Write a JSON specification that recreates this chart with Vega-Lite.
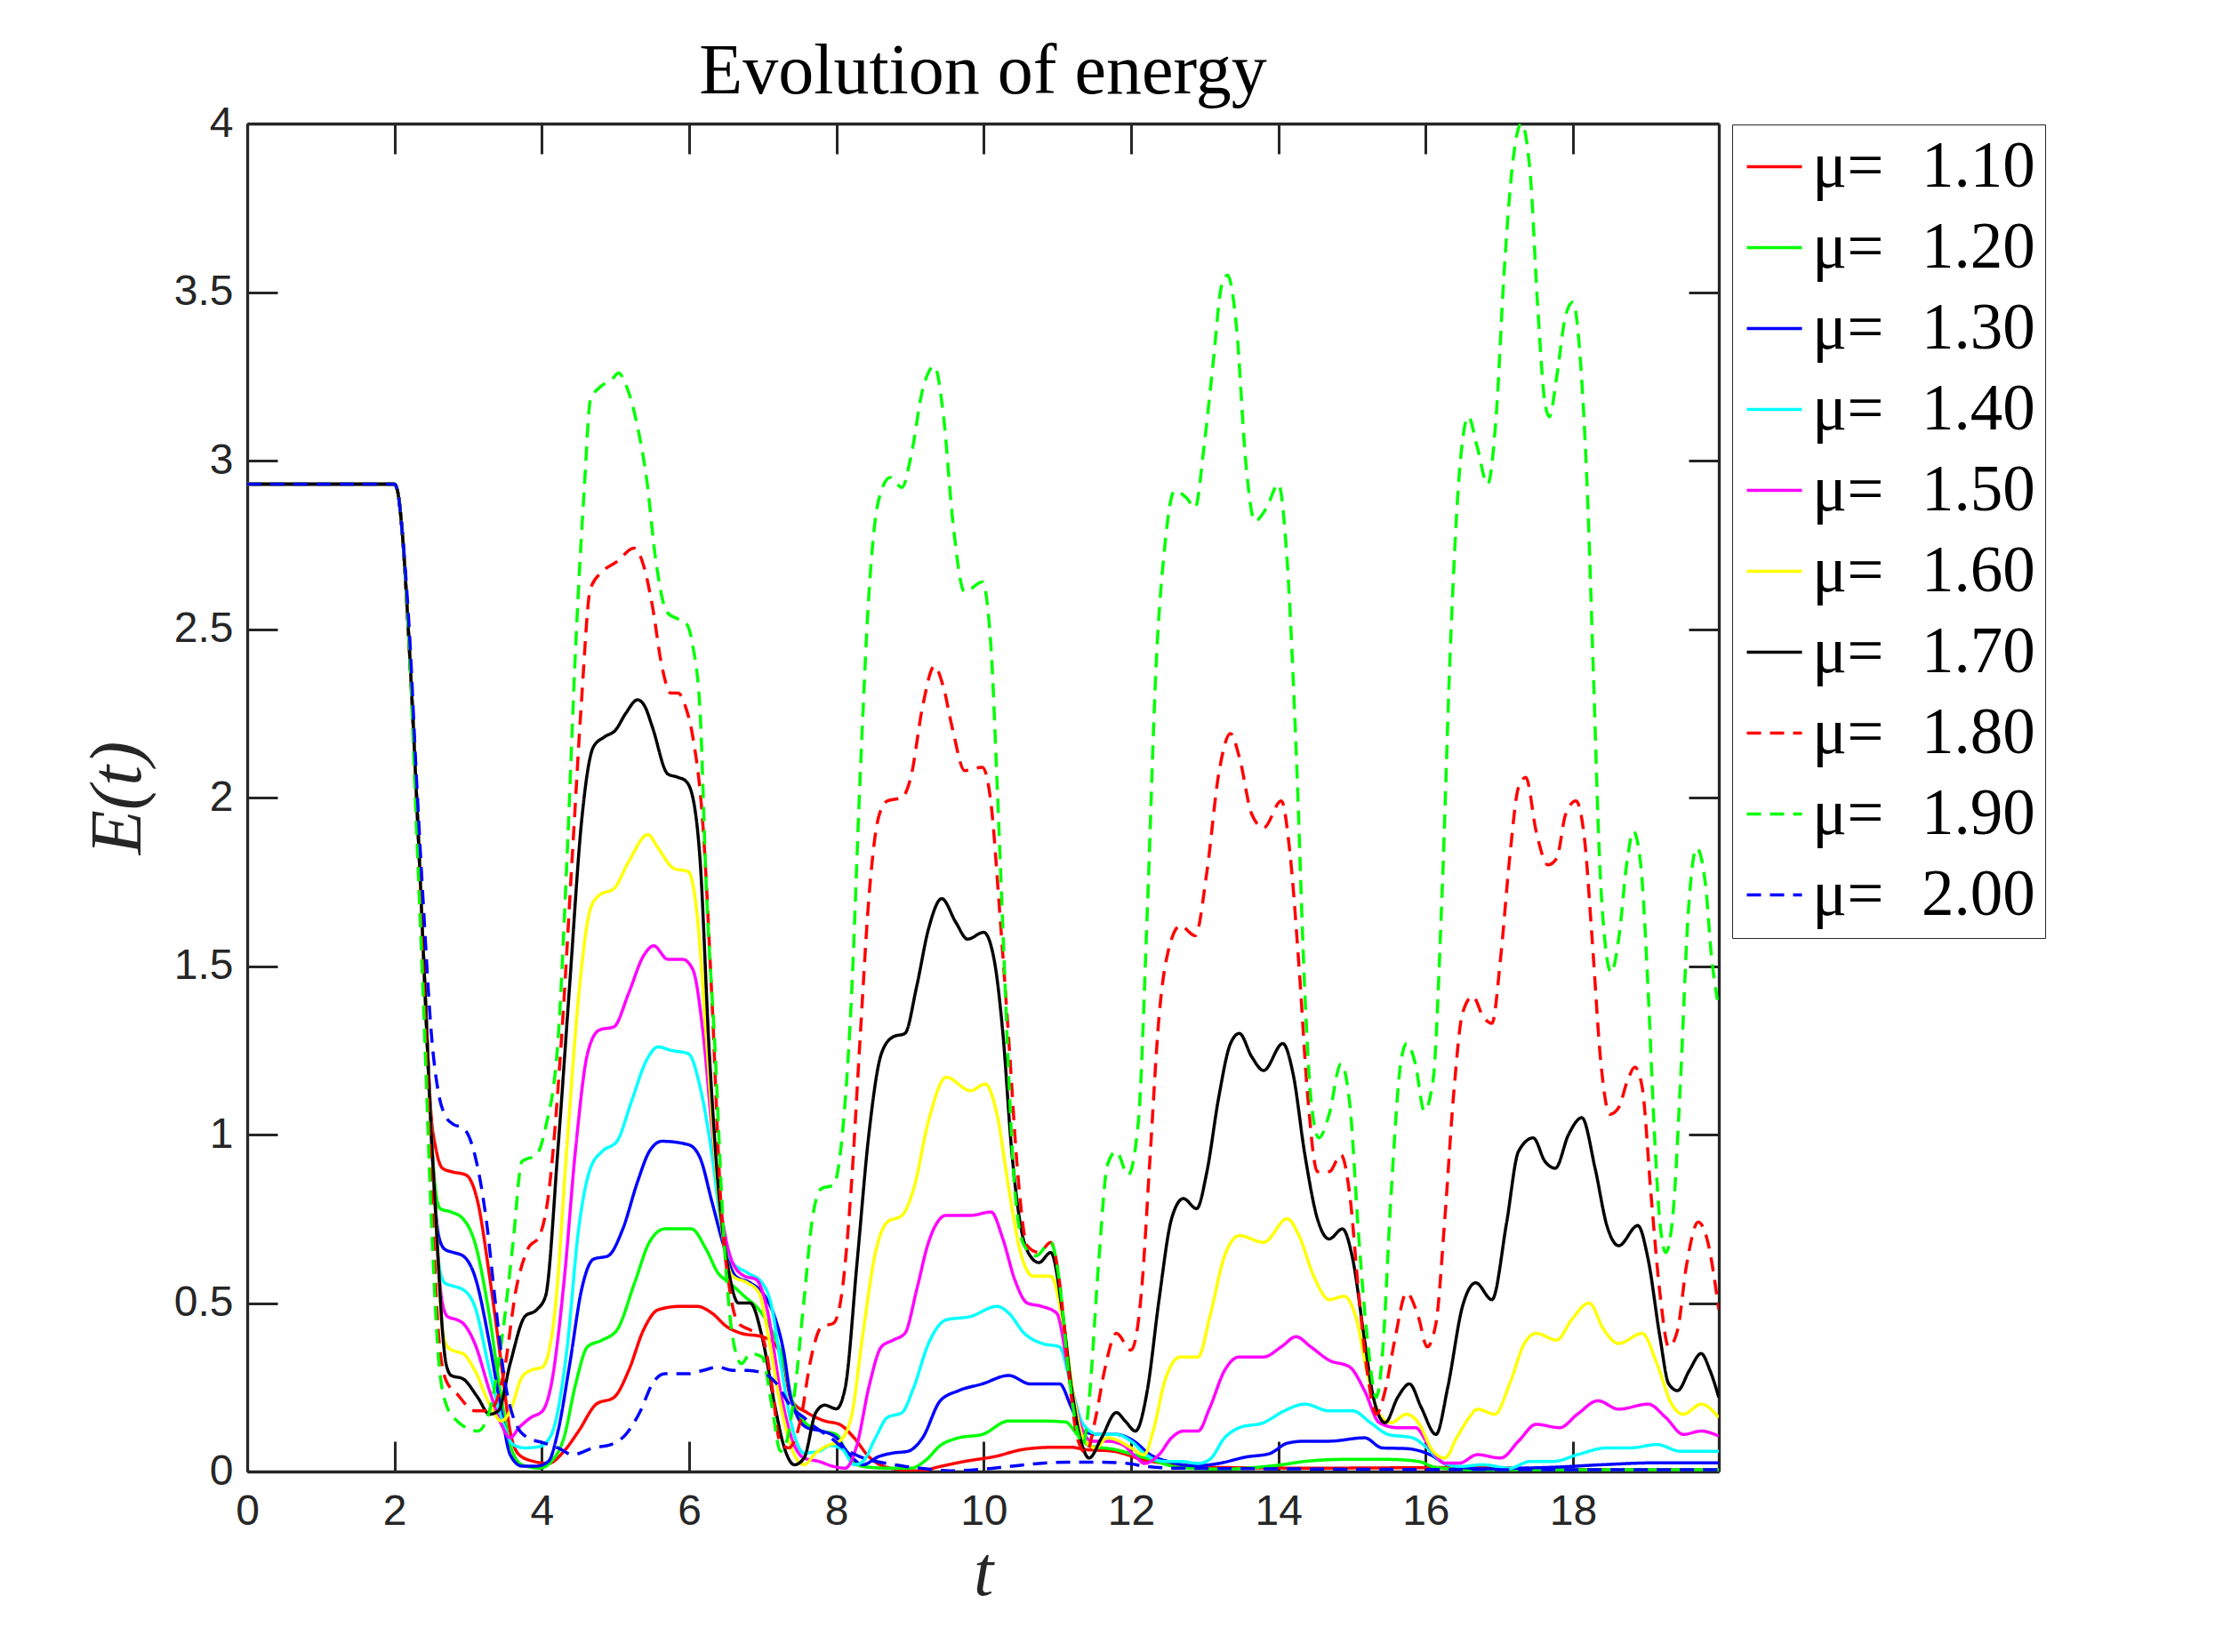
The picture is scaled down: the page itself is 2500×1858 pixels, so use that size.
{
  "$schema": "https://vega.github.io/schema/vega-lite/v6.json",
  "width": 1655,
  "height": 1516,
  "autosize": {"type": "none"},
  "padding": {"left": 278, "top": 139, "right": 567, "bottom": 203},
  "background": "white",
  "title": {
    "text": "Evolution of energy",
    "font": "Liberation Serif",
    "fontSize": 80,
    "fontWeight": "normal",
    "color": "black",
    "anchor": "middle",
    "frame": "group",
    "baseline": "bottom",
    "offset": 18,
    "dy": 105
  },
  "data": {
    "values": [
      {"mu":"1.10","t":0,"E":2.93},{"mu":"1.10","t":2,"E":2.93},{"mu":"1.10","t":2.05,"E":2.9},{"mu":"1.10","t":2.1,"E":2.8},{"mu":"1.10","t":2.2,"E":2.45},{"mu":"1.10","t":2.3,"E":2.0},{"mu":"1.10","t":2.4,"E":1.5},{"mu":"1.10","t":2.5,"E":1.05},{"mu":"1.10","t":2.56,"E":0.96},{"mu":"1.10","t":2.65,"E":0.9},{"mu":"1.10","t":2.77,"E":0.89},{"mu":"1.10","t":2.97,"E":0.88},{"mu":"1.10","t":3.13,"E":0.8},{"mu":"1.10","t":3.29,"E":0.58},{"mu":"1.10","t":3.45,"E":0.32},{"mu":"1.10","t":3.57,"E":0.12},{"mu":"1.10","t":3.69,"E":0.05},{"mu":"1.10","t":3.89,"E":0.03},{"mu":"1.10","t":4.09,"E":0.024},{"mu":"1.10","t":4.3,"E":0.06},{"mu":"1.10","t":4.5,"E":0.12},{"mu":"1.10","t":4.74,"E":0.2},{"mu":"1.10","t":4.98,"E":0.22},{"mu":"1.10","t":5.18,"E":0.3},{"mu":"1.10","t":5.38,"E":0.42},{"mu":"1.10","t":5.58,"E":0.48},{"mu":"1.10","t":5.87,"E":0.49},{"mu":"1.10","t":6.11,"E":0.49},{"mu":"1.10","t":6.31,"E":0.47},{"mu":"1.10","t":6.51,"E":0.43},{"mu":"1.10","t":6.71,"E":0.41},{"mu":"1.10","t":6.99,"E":0.4},{"mu":"1.10","t":7.16,"E":0.38},{"mu":"1.10","t":7.28,"E":0.32},{"mu":"1.10","t":7.39,"E":0.21},{"mu":"1.10","t":7.6,"E":0.175},{"mu":"1.10","t":7.84,"E":0.15},{"mu":"1.10","t":8.04,"E":0.14},{"mu":"1.10","t":8.24,"E":0.1},{"mu":"1.10","t":8.44,"E":0.044},{"mu":"1.10","t":8.73,"E":0.01},{"mu":"1.10","t":9.13,"E":0.002},{"mu":"1.10","t":9.41,"E":0.015},{"mu":"1.10","t":9.74,"E":0.03},{"mu":"1.10","t":10.14,"E":0.044},{"mu":"1.10","t":10.55,"E":0.066},{"mu":"1.10","t":10.95,"E":0.072},{"mu":"1.10","t":11.19,"E":0.072},{"mu":"1.10","t":11.35,"E":0.066},{"mu":"1.10","t":11.76,"E":0.06},{"mu":"1.10","t":12.2,"E":0.033},{"mu":"1.10","t":12.67,"E":0.02},{"mu":"1.10","t":13.2,"E":0.012},{"mu":"1.10","t":14.5,"E":0.01},{"mu":"1.10","t":16.7,"E":0.012},{"mu":"1.10","t":18,"E":0.006},{"mu":"1.10","t":19.98,"E":0.005},

      {"mu":"1.20","t":0,"E":2.93},{"mu":"1.20","t":2,"E":2.93},{"mu":"1.20","t":2.05,"E":2.9},{"mu":"1.20","t":2.1,"E":2.8},{"mu":"1.20","t":2.2,"E":2.45},{"mu":"1.20","t":2.3,"E":2.0},{"mu":"1.20","t":2.4,"E":1.5},{"mu":"1.20","t":2.5,"E":1.0},{"mu":"1.20","t":2.55,"E":0.85},{"mu":"1.20","t":2.62,"E":0.78},{"mu":"1.20","t":2.77,"E":0.77},{"mu":"1.20","t":2.93,"E":0.75},{"mu":"1.20","t":3.09,"E":0.68},{"mu":"1.20","t":3.29,"E":0.46},{"mu":"1.20","t":3.45,"E":0.22},{"mu":"1.20","t":3.57,"E":0.08},{"mu":"1.20","t":3.73,"E":0.02},{"mu":"1.20","t":3.97,"E":0.01},{"mu":"1.20","t":4.13,"E":0.03},{"mu":"1.20","t":4.3,"E":0.1},{"mu":"1.20","t":4.46,"E":0.26},{"mu":"1.20","t":4.62,"E":0.37},{"mu":"1.20","t":4.82,"E":0.39},{"mu":"1.20","t":5.02,"E":0.42},{"mu":"1.20","t":5.26,"E":0.56},{"mu":"1.20","t":5.46,"E":0.68},{"mu":"1.20","t":5.67,"E":0.72},{"mu":"1.20","t":6.03,"E":0.72},{"mu":"1.20","t":6.23,"E":0.66},{"mu":"1.20","t":6.39,"E":0.59},{"mu":"1.20","t":6.55,"E":0.56},{"mu":"1.20","t":6.75,"E":0.52},{"mu":"1.20","t":6.95,"E":0.48},{"mu":"1.20","t":7.07,"E":0.44},{"mu":"1.20","t":7.16,"E":0.4},{"mu":"1.20","t":7.28,"E":0.33},{"mu":"1.20","t":7.39,"E":0.22},{"mu":"1.20","t":7.6,"E":0.14},{"mu":"1.20","t":7.8,"E":0.12},{"mu":"1.20","t":8.0,"E":0.11},{"mu":"1.20","t":8.16,"E":0.044},{"mu":"1.20","t":8.36,"E":0.015},{"mu":"1.20","t":8.69,"E":0.01},{"mu":"1.20","t":9.01,"E":0.01},{"mu":"1.20","t":9.21,"E":0.033},{"mu":"1.20","t":9.41,"E":0.077},{"mu":"1.20","t":9.66,"E":0.1},{"mu":"1.20","t":9.98,"E":0.11},{"mu":"1.20","t":10.34,"E":0.15},{"mu":"1.20","t":10.75,"E":0.15},{"mu":"1.20","t":11.11,"E":0.147},{"mu":"1.20","t":11.27,"E":0.11},{"mu":"1.20","t":11.43,"E":0.077},{"mu":"1.20","t":11.76,"E":0.066},{"mu":"1.20","t":12.2,"E":0.04},{"mu":"1.20","t":12.67,"E":0.012},{"mu":"1.20","t":13.27,"E":0.007},{"mu":"1.20","t":13.68,"E":0.012},{"mu":"1.20","t":14.04,"E":0.02},{"mu":"1.20","t":14.36,"E":0.03},{"mu":"1.20","t":14.89,"E":0.036},{"mu":"1.20","t":15.49,"E":0.036},{"mu":"1.20","t":15.9,"E":0.03},{"mu":"1.20","t":16.14,"E":0.012},{"mu":"1.20","t":16.71,"E":0.005},{"mu":"1.20","t":19.98,"E":0.005},

      {"mu":"1.30","t":0,"E":2.93},{"mu":"1.30","t":2,"E":2.93},{"mu":"1.30","t":2.05,"E":2.9},{"mu":"1.30","t":2.1,"E":2.8},{"mu":"1.30","t":2.2,"E":2.45},{"mu":"1.30","t":2.3,"E":2.0},{"mu":"1.30","t":2.4,"E":1.5},{"mu":"1.30","t":2.5,"E":1.0},{"mu":"1.30","t":2.55,"E":0.8},{"mu":"1.30","t":2.6,"E":0.7},{"mu":"1.30","t":2.68,"E":0.66},{"mu":"1.30","t":2.8,"E":0.65},{"mu":"1.30","t":2.93,"E":0.64},{"mu":"1.30","t":3.09,"E":0.58},{"mu":"1.30","t":3.29,"E":0.38},{"mu":"1.30","t":3.45,"E":0.18},{"mu":"1.30","t":3.57,"E":0.05},{"mu":"1.30","t":3.73,"E":0.016},{"mu":"1.30","t":3.93,"E":0.016},{"mu":"1.30","t":4.09,"E":0.03},{"mu":"1.30","t":4.22,"E":0.12},{"mu":"1.30","t":4.38,"E":0.32},{"mu":"1.30","t":4.54,"E":0.54},{"mu":"1.30","t":4.7,"E":0.63},{"mu":"1.30","t":4.9,"E":0.64},{"mu":"1.30","t":5.1,"E":0.72},{"mu":"1.30","t":5.3,"E":0.86},{"mu":"1.30","t":5.46,"E":0.95},{"mu":"1.30","t":5.63,"E":0.98},{"mu":"1.30","t":5.99,"E":0.97},{"mu":"1.30","t":6.15,"E":0.93},{"mu":"1.30","t":6.31,"E":0.8},{"mu":"1.30","t":6.47,"E":0.67},{"mu":"1.30","t":6.63,"E":0.58},{"mu":"1.30","t":6.83,"E":0.56},{"mu":"1.30","t":7.03,"E":0.52},{"mu":"1.30","t":7.16,"E":0.46},{"mu":"1.30","t":7.28,"E":0.36},{"mu":"1.30","t":7.39,"E":0.21},{"mu":"1.30","t":7.6,"E":0.13},{"mu":"1.30","t":7.8,"E":0.12},{"mu":"1.30","t":8.0,"E":0.1},{"mu":"1.30","t":8.16,"E":0.055},{"mu":"1.30","t":8.36,"E":0.02},{"mu":"1.30","t":8.57,"E":0.044},{"mu":"1.30","t":8.77,"E":0.055},{"mu":"1.30","t":8.97,"E":0.06},{"mu":"1.30","t":9.17,"E":0.1},{"mu":"1.30","t":9.41,"E":0.21},{"mu":"1.30","t":9.66,"E":0.24},{"mu":"1.30","t":9.98,"E":0.26},{"mu":"1.30","t":10.34,"E":0.285},{"mu":"1.30","t":10.63,"E":0.26},{"mu":"1.30","t":11.03,"E":0.26},{"mu":"1.30","t":11.19,"E":0.19},{"mu":"1.30","t":11.35,"E":0.12},{"mu":"1.30","t":11.56,"E":0.11},{"mu":"1.30","t":11.8,"E":0.11},{"mu":"1.30","t":12.04,"E":0.09},{"mu":"1.30","t":12.26,"E":0.05},{"mu":"1.30","t":12.5,"E":0.03},{"mu":"1.30","t":12.87,"E":0.017},{"mu":"1.30","t":13.19,"E":0.024},{"mu":"1.30","t":13.56,"E":0.043},{"mu":"1.30","t":13.88,"E":0.053},{"mu":"1.30","t":14.12,"E":0.084},{"mu":"1.30","t":14.36,"E":0.09},{"mu":"1.30","t":14.69,"E":0.09},{"mu":"1.30","t":15.17,"E":0.1},{"mu":"1.30","t":15.41,"E":0.07},{"mu":"1.30","t":15.74,"E":0.068},{"mu":"1.30","t":16.06,"E":0.05},{"mu":"1.30","t":16.3,"E":0.02},{"mu":"1.30","t":16.78,"E":0.008},{"mu":"1.30","t":17.3,"E":0.01},{"mu":"1.30","t":17.78,"E":0.013},{"mu":"1.30","t":18.38,"E":0.02},{"mu":"1.30","t":19.18,"E":0.026},{"mu":"1.30","t":19.98,"E":0.026},

      {"mu":"1.40","t":0,"E":2.93},{"mu":"1.40","t":2,"E":2.93},{"mu":"1.40","t":2.05,"E":2.9},{"mu":"1.40","t":2.1,"E":2.8},{"mu":"1.40","t":2.2,"E":2.45},{"mu":"1.40","t":2.3,"E":2.0},{"mu":"1.40","t":2.4,"E":1.5},{"mu":"1.40","t":2.5,"E":1.0},{"mu":"1.40","t":2.55,"E":0.8},{"mu":"1.40","t":2.6,"E":0.62},{"mu":"1.40","t":2.68,"E":0.56},{"mu":"1.40","t":2.8,"E":0.55},{"mu":"1.40","t":2.93,"E":0.54},{"mu":"1.40","t":3.09,"E":0.49},{"mu":"1.40","t":3.29,"E":0.3},{"mu":"1.40","t":3.45,"E":0.16},{"mu":"1.40","t":3.61,"E":0.08},{"mu":"1.40","t":3.77,"E":0.07},{"mu":"1.40","t":3.97,"E":0.074},{"mu":"1.40","t":4.13,"E":0.11},{"mu":"1.40","t":4.34,"E":0.36},{"mu":"1.40","t":4.5,"E":0.72},{"mu":"1.40","t":4.66,"E":0.9},{"mu":"1.40","t":4.82,"E":0.95},{"mu":"1.40","t":5.02,"E":0.98},{"mu":"1.40","t":5.22,"E":1.1},{"mu":"1.40","t":5.42,"E":1.22},{"mu":"1.40","t":5.58,"E":1.26},{"mu":"1.40","t":5.75,"E":1.25},{"mu":"1.40","t":5.99,"E":1.24},{"mu":"1.40","t":6.15,"E":1.14},{"mu":"1.40","t":6.31,"E":0.94},{"mu":"1.40","t":6.43,"E":0.74},{"mu":"1.40","t":6.59,"E":0.62},{"mu":"1.40","t":6.79,"E":0.59},{"mu":"1.40","t":6.99,"E":0.56},{"mu":"1.40","t":7.12,"E":0.49},{"mu":"1.40","t":7.23,"E":0.34},{"mu":"1.40","t":7.39,"E":0.14},{"mu":"1.40","t":7.56,"E":0.055},{"mu":"1.40","t":7.76,"E":0.06},{"mu":"1.40","t":7.92,"E":0.077},{"mu":"1.40","t":8.08,"E":0.066},{"mu":"1.40","t":8.24,"E":0.02},{"mu":"1.40","t":8.36,"E":0.03},{"mu":"1.40","t":8.53,"E":0.1},{"mu":"1.40","t":8.69,"E":0.16},{"mu":"1.40","t":8.89,"E":0.175},{"mu":"1.40","t":9.05,"E":0.25},{"mu":"1.40","t":9.25,"E":0.38},{"mu":"1.40","t":9.49,"E":0.45},{"mu":"1.40","t":9.82,"E":0.46},{"mu":"1.40","t":10.18,"E":0.49},{"mu":"1.40","t":10.34,"E":0.47},{"mu":"1.40","t":10.55,"E":0.41},{"mu":"1.40","t":10.79,"E":0.38},{"mu":"1.40","t":11.03,"E":0.37},{"mu":"1.40","t":11.19,"E":0.25},{"mu":"1.40","t":11.35,"E":0.14},{"mu":"1.40","t":11.56,"E":0.11},{"mu":"1.40","t":11.8,"E":0.11},{"mu":"1.40","t":12.0,"E":0.09},{"mu":"1.40","t":12.2,"E":0.05},{"mu":"1.40","t":12.46,"E":0.03},{"mu":"1.40","t":12.67,"E":0.03},{"mu":"1.40","t":12.91,"E":0.024},{"mu":"1.40","t":13.07,"E":0.036},{"mu":"1.40","t":13.27,"E":0.1},{"mu":"1.40","t":13.47,"E":0.13},{"mu":"1.40","t":13.8,"E":0.145},{"mu":"1.40","t":14.08,"E":0.18},{"mu":"1.40","t":14.36,"E":0.2},{"mu":"1.40","t":14.69,"E":0.18},{"mu":"1.40","t":15.01,"E":0.18},{"mu":"1.40","t":15.25,"E":0.145},{"mu":"1.40","t":15.49,"E":0.11},{"mu":"1.40","t":15.82,"E":0.1},{"mu":"1.40","t":16.02,"E":0.07},{"mu":"1.40","t":16.22,"E":0.028},{"mu":"1.40","t":16.46,"E":0.015},{"mu":"1.40","t":16.78,"E":0.02},{"mu":"1.40","t":17.14,"E":0.01},{"mu":"1.40","t":17.42,"E":0.03},{"mu":"1.40","t":17.74,"E":0.03},{"mu":"1.40","t":18.06,"E":0.05},{"mu":"1.40","t":18.46,"E":0.07},{"mu":"1.40","t":18.78,"E":0.07},{"mu":"1.40","t":19.14,"E":0.08},{"mu":"1.40","t":19.46,"E":0.06},{"mu":"1.40","t":19.98,"E":0.06},

      {"mu":"1.50","t":0,"E":2.93},{"mu":"1.50","t":2,"E":2.93},{"mu":"1.50","t":2.05,"E":2.9},{"mu":"1.50","t":2.1,"E":2.8},{"mu":"1.50","t":2.2,"E":2.45},{"mu":"1.50","t":2.3,"E":2.0},{"mu":"1.50","t":2.4,"E":1.5},{"mu":"1.50","t":2.5,"E":1.0},{"mu":"1.50","t":2.55,"E":0.8},{"mu":"1.50","t":2.6,"E":0.6},{"mu":"1.50","t":2.65,"E":0.5},{"mu":"1.50","t":2.72,"E":0.46},{"mu":"1.50","t":2.85,"E":0.45},{"mu":"1.50","t":2.93,"E":0.44},{"mu":"1.50","t":3.09,"E":0.38},{"mu":"1.50","t":3.29,"E":0.24},{"mu":"1.50","t":3.45,"E":0.14},{"mu":"1.50","t":3.57,"E":0.1},{"mu":"1.50","t":3.69,"E":0.13},{"mu":"1.50","t":3.85,"E":0.16},{"mu":"1.50","t":4.01,"E":0.18},{"mu":"1.50","t":4.13,"E":0.26},{"mu":"1.50","t":4.3,"E":0.56},{"mu":"1.50","t":4.46,"E":0.96},{"mu":"1.50","t":4.62,"E":1.24},{"mu":"1.50","t":4.78,"E":1.31},{"mu":"1.50","t":4.98,"E":1.32},{"mu":"1.50","t":5.18,"E":1.42},{"mu":"1.50","t":5.38,"E":1.53},{"mu":"1.50","t":5.52,"E":1.56},{"mu":"1.50","t":5.71,"E":1.52},{"mu":"1.50","t":5.91,"E":1.52},{"mu":"1.50","t":6.05,"E":1.49},{"mu":"1.50","t":6.19,"E":1.3},{"mu":"1.50","t":6.31,"E":1.02},{"mu":"1.50","t":6.43,"E":0.78},{"mu":"1.50","t":6.59,"E":0.62},{"mu":"1.50","t":6.75,"E":0.58},{"mu":"1.50","t":6.91,"E":0.57},{"mu":"1.50","t":7.07,"E":0.47},{"mu":"1.50","t":7.23,"E":0.25},{"mu":"1.50","t":7.39,"E":0.1},{"mu":"1.50","t":7.56,"E":0.04},{"mu":"1.50","t":7.76,"E":0.03},{"mu":"1.50","t":7.96,"E":0.015},{"mu":"1.50","t":8.12,"E":0.01},{"mu":"1.50","t":8.28,"E":0.08},{"mu":"1.50","t":8.44,"E":0.25},{"mu":"1.50","t":8.61,"E":0.37},{"mu":"1.50","t":8.77,"E":0.39},{"mu":"1.50","t":8.93,"E":0.41},{"mu":"1.50","t":9.09,"E":0.54},{"mu":"1.50","t":9.25,"E":0.68},{"mu":"1.50","t":9.49,"E":0.76},{"mu":"1.50","t":9.82,"E":0.76},{"mu":"1.50","t":10.1,"E":0.77},{"mu":"1.50","t":10.26,"E":0.69},{"mu":"1.50","t":10.42,"E":0.57},{"mu":"1.50","t":10.59,"E":0.5},{"mu":"1.50","t":10.79,"E":0.49},{"mu":"1.50","t":10.99,"E":0.47},{"mu":"1.50","t":11.15,"E":0.3},{"mu":"1.50","t":11.31,"E":0.14},{"mu":"1.50","t":11.47,"E":0.09},{"mu":"1.50","t":11.68,"E":0.09},{"mu":"1.50","t":11.88,"E":0.08},{"mu":"1.50","t":12.08,"E":0.04},{"mu":"1.50","t":12.18,"E":0.024},{"mu":"1.50","t":12.38,"E":0.05},{"mu":"1.50","t":12.55,"E":0.1},{"mu":"1.50","t":12.71,"E":0.12},{"mu":"1.50","t":12.91,"E":0.12},{"mu":"1.50","t":13.07,"E":0.19},{"mu":"1.50","t":13.27,"E":0.3},{"mu":"1.50","t":13.47,"E":0.34},{"mu":"1.50","t":13.8,"E":0.34},{"mu":"1.50","t":14.04,"E":0.37},{"mu":"1.50","t":14.24,"E":0.4},{"mu":"1.50","t":14.44,"E":0.37},{"mu":"1.50","t":14.69,"E":0.33},{"mu":"1.50","t":14.97,"E":0.31},{"mu":"1.50","t":15.17,"E":0.24},{"mu":"1.50","t":15.37,"E":0.145},{"mu":"1.50","t":15.62,"E":0.13},{"mu":"1.50","t":15.86,"E":0.13},{"mu":"1.50","t":16.06,"E":0.07},{"mu":"1.50","t":16.26,"E":0.025},{"mu":"1.50","t":16.46,"E":0.025},{"mu":"1.50","t":16.7,"E":0.05},{"mu":"1.50","t":17.02,"E":0.04},{"mu":"1.50","t":17.26,"E":0.09},{"mu":"1.50","t":17.5,"E":0.14},{"mu":"1.50","t":17.82,"E":0.13},{"mu":"1.50","t":18.06,"E":0.17},{"mu":"1.50","t":18.34,"E":0.21},{"mu":"1.50","t":18.62,"E":0.185},{"mu":"1.50","t":19.02,"E":0.2},{"mu":"1.50","t":19.26,"E":0.16},{"mu":"1.50","t":19.5,"E":0.11},{"mu":"1.50","t":19.74,"E":0.12},{"mu":"1.50","t":19.98,"E":0.105},

      {"mu":"1.60","t":0,"E":2.93},{"mu":"1.60","t":2,"E":2.93},{"mu":"1.60","t":2.05,"E":2.9},{"mu":"1.60","t":2.1,"E":2.8},{"mu":"1.60","t":2.2,"E":2.45},{"mu":"1.60","t":2.3,"E":2.0},{"mu":"1.60","t":2.4,"E":1.5},{"mu":"1.60","t":2.5,"E":1.0},{"mu":"1.60","t":2.55,"E":0.8},{"mu":"1.60","t":2.6,"E":0.6},{"mu":"1.60","t":2.65,"E":0.42},{"mu":"1.60","t":2.72,"E":0.37},{"mu":"1.60","t":2.85,"E":0.355},{"mu":"1.60","t":2.93,"E":0.35},{"mu":"1.60","t":3.09,"E":0.3},{"mu":"1.60","t":3.29,"E":0.2},{"mu":"1.60","t":3.45,"E":0.15},{"mu":"1.60","t":3.57,"E":0.18},{"mu":"1.60","t":3.73,"E":0.28},{"mu":"1.60","t":3.85,"E":0.3},{"mu":"1.60","t":4.01,"E":0.31},{"mu":"1.60","t":4.18,"E":0.48},{"mu":"1.60","t":4.34,"E":0.96},{"mu":"1.60","t":4.5,"E":1.41},{"mu":"1.60","t":4.66,"E":1.67},{"mu":"1.60","t":4.78,"E":1.71},{"mu":"1.60","t":4.98,"E":1.73},{"mu":"1.60","t":5.18,"E":1.81},{"mu":"1.60","t":5.44,"E":1.89},{"mu":"1.60","t":5.58,"E":1.85},{"mu":"1.60","t":5.79,"E":1.79},{"mu":"1.60","t":5.99,"E":1.78},{"mu":"1.60","t":6.11,"E":1.65},{"mu":"1.60","t":6.23,"E":1.3},{"mu":"1.60","t":6.35,"E":0.94},{"mu":"1.60","t":6.47,"E":0.68},{"mu":"1.60","t":6.59,"E":0.58},{"mu":"1.60","t":6.79,"E":0.56},{"mu":"1.60","t":6.95,"E":0.53},{"mu":"1.60","t":7.07,"E":0.41},{"mu":"1.60","t":7.23,"E":0.21},{"mu":"1.60","t":7.39,"E":0.07},{"mu":"1.60","t":7.56,"E":0.02},{"mu":"1.60","t":7.72,"E":0.055},{"mu":"1.60","t":7.88,"E":0.077},{"mu":"1.60","t":8.04,"E":0.09},{"mu":"1.60","t":8.2,"E":0.16},{"mu":"1.60","t":8.36,"E":0.41},{"mu":"1.60","t":8.53,"E":0.65},{"mu":"1.60","t":8.69,"E":0.74},{"mu":"1.60","t":8.89,"E":0.76},{"mu":"1.60","t":9.05,"E":0.84},{"mu":"1.60","t":9.25,"E":1.04},{"mu":"1.60","t":9.49,"E":1.17},{"mu":"1.60","t":9.82,"E":1.13},{"mu":"1.60","t":10.02,"E":1.15},{"mu":"1.60","t":10.18,"E":1.06},{"mu":"1.60","t":10.34,"E":0.84},{"mu":"1.60","t":10.5,"E":0.65},{"mu":"1.60","t":10.67,"E":0.58},{"mu":"1.60","t":10.91,"E":0.58},{"mu":"1.60","t":11.07,"E":0.45},{"mu":"1.60","t":11.23,"E":0.21},{"mu":"1.60","t":11.35,"E":0.1},{"mu":"1.60","t":11.52,"E":0.07},{"mu":"1.60","t":11.68,"E":0.1},{"mu":"1.60","t":11.84,"E":0.09},{"mu":"1.60","t":12.0,"E":0.07},{"mu":"1.60","t":12.18,"E":0.05},{"mu":"1.60","t":12.3,"E":0.12},{"mu":"1.60","t":12.46,"E":0.27},{"mu":"1.60","t":12.67,"E":0.34},{"mu":"1.60","t":12.91,"E":0.34},{"mu":"1.60","t":13.07,"E":0.46},{"mu":"1.60","t":13.27,"E":0.64},{"mu":"1.60","t":13.47,"E":0.7},{"mu":"1.60","t":13.8,"E":0.68},{"mu":"1.60","t":14.12,"E":0.75},{"mu":"1.60","t":14.28,"E":0.7},{"mu":"1.60","t":14.48,"E":0.58},{"mu":"1.60","t":14.69,"E":0.51},{"mu":"1.60","t":14.89,"E":0.52},{"mu":"1.60","t":15.05,"E":0.46},{"mu":"1.60","t":15.21,"E":0.29},{"mu":"1.60","t":15.37,"E":0.17},{"mu":"1.60","t":15.53,"E":0.145},{"mu":"1.60","t":15.74,"E":0.17},{"mu":"1.60","t":15.9,"E":0.145},{"mu":"1.60","t":16.1,"E":0.06},{"mu":"1.60","t":16.26,"E":0.04},{"mu":"1.60","t":16.42,"E":0.1},{"mu":"1.60","t":16.59,"E":0.16},{"mu":"1.60","t":16.7,"E":0.185},{"mu":"1.60","t":16.94,"E":0.17},{"mu":"1.60","t":17.14,"E":0.26},{"mu":"1.60","t":17.34,"E":0.38},{"mu":"1.60","t":17.5,"E":0.41},{"mu":"1.60","t":17.78,"E":0.39},{"mu":"1.60","t":17.98,"E":0.45},{"mu":"1.60","t":18.22,"E":0.5},{"mu":"1.60","t":18.42,"E":0.42},{"mu":"1.60","t":18.62,"E":0.38},{"mu":"1.60","t":18.94,"E":0.41},{"mu":"1.60","t":19.14,"E":0.32},{"mu":"1.60","t":19.34,"E":0.2},{"mu":"1.60","t":19.5,"E":0.17},{"mu":"1.60","t":19.74,"E":0.2},{"mu":"1.60","t":19.98,"E":0.16},

      {"mu":"1.70","t":0,"E":2.93},{"mu":"1.70","t":2,"E":2.93},{"mu":"1.70","t":2.05,"E":2.9},{"mu":"1.70","t":2.1,"E":2.8},{"mu":"1.70","t":2.2,"E":2.45},{"mu":"1.70","t":2.3,"E":2.0},{"mu":"1.70","t":2.4,"E":1.5},{"mu":"1.70","t":2.5,"E":1.0},{"mu":"1.70","t":2.55,"E":0.8},{"mu":"1.70","t":2.6,"E":0.6},{"mu":"1.70","t":2.65,"E":0.42},{"mu":"1.70","t":2.7,"E":0.32},{"mu":"1.70","t":2.77,"E":0.285},{"mu":"1.70","t":2.93,"E":0.275},{"mu":"1.70","t":3.13,"E":0.22},{"mu":"1.70","t":3.29,"E":0.17},{"mu":"1.70","t":3.41,"E":0.18},{"mu":"1.70","t":3.57,"E":0.32},{"mu":"1.70","t":3.77,"E":0.46},{"mu":"1.70","t":3.93,"E":0.48},{"mu":"1.70","t":4.05,"E":0.52},{"mu":"1.70","t":4.22,"E":0.96},{"mu":"1.70","t":4.38,"E":1.45},{"mu":"1.70","t":4.54,"E":1.93},{"mu":"1.70","t":4.7,"E":2.15},{"mu":"1.70","t":4.85,"E":2.18},{"mu":"1.70","t":5.0,"E":2.2},{"mu":"1.70","t":5.14,"E":2.25},{"mu":"1.70","t":5.3,"E":2.29},{"mu":"1.70","t":5.4,"E":2.27},{"mu":"1.70","t":5.5,"E":2.21},{"mu":"1.70","t":5.71,"E":2.07},{"mu":"1.70","t":5.85,"E":2.06},{"mu":"1.70","t":5.95,"E":2.05},{"mu":"1.70","t":6.05,"E":2.0},{"mu":"1.70","t":6.15,"E":1.81},{"mu":"1.70","t":6.27,"E":1.26},{"mu":"1.70","t":6.39,"E":0.86},{"mu":"1.70","t":6.55,"E":0.58},{"mu":"1.70","t":6.67,"E":0.5},{"mu":"1.70","t":6.83,"E":0.5},{"mu":"1.70","t":6.99,"E":0.4},{"mu":"1.70","t":7.16,"E":0.2},{"mu":"1.70","t":7.28,"E":0.08},{"mu":"1.70","t":7.43,"E":0.02},{"mu":"1.70","t":7.56,"E":0.04},{"mu":"1.70","t":7.72,"E":0.175},{"mu":"1.70","t":7.84,"E":0.197},{"mu":"1.70","t":8.0,"E":0.186},{"mu":"1.70","t":8.12,"E":0.25},{"mu":"1.70","t":8.28,"E":0.62},{"mu":"1.70","t":8.44,"E":1.0},{"mu":"1.70","t":8.61,"E":1.24},{"mu":"1.70","t":8.77,"E":1.29},{"mu":"1.70","t":8.93,"E":1.3},{"mu":"1.70","t":9.09,"E":1.44},{"mu":"1.70","t":9.25,"E":1.61},{"mu":"1.70","t":9.43,"E":1.7},{"mu":"1.70","t":9.62,"E":1.63},{"mu":"1.70","t":9.78,"E":1.58},{"mu":"1.70","t":10.0,"E":1.6},{"mu":"1.70","t":10.14,"E":1.52},{"mu":"1.70","t":10.26,"E":1.3},{"mu":"1.70","t":10.38,"E":0.95},{"mu":"1.70","t":10.5,"E":0.73},{"mu":"1.70","t":10.63,"E":0.64},{"mu":"1.70","t":10.75,"E":0.62},{"mu":"1.70","t":10.91,"E":0.65},{"mu":"1.70","t":11.07,"E":0.47},{"mu":"1.70","t":11.19,"E":0.25},{"mu":"1.70","t":11.31,"E":0.1},{"mu":"1.70","t":11.43,"E":0.04},{"mu":"1.70","t":11.6,"E":0.1},{"mu":"1.70","t":11.8,"E":0.175},{"mu":"1.70","t":11.92,"E":0.15},{"mu":"1.70","t":12.06,"E":0.12},{"mu":"1.70","t":12.22,"E":0.24},{"mu":"1.70","t":12.38,"E":0.51},{"mu":"1.70","t":12.55,"E":0.75},{"mu":"1.70","t":12.71,"E":0.81},{"mu":"1.70","t":12.89,"E":0.78},{"mu":"1.70","t":13.03,"E":0.89},{"mu":"1.70","t":13.19,"E":1.11},{"mu":"1.70","t":13.35,"E":1.27},{"mu":"1.70","t":13.47,"E":1.3},{"mu":"1.70","t":13.64,"E":1.23},{"mu":"1.70","t":13.8,"E":1.19},{"mu":"1.70","t":14.06,"E":1.27},{"mu":"1.70","t":14.2,"E":1.18},{"mu":"1.70","t":14.36,"E":0.94},{"mu":"1.70","t":14.53,"E":0.75},{"mu":"1.70","t":14.69,"E":0.69},{"mu":"1.70","t":14.87,"E":0.72},{"mu":"1.70","t":15.01,"E":0.63},{"mu":"1.70","t":15.17,"E":0.39},{"mu":"1.70","t":15.29,"E":0.22},{"mu":"1.70","t":15.45,"E":0.145},{"mu":"1.70","t":15.62,"E":0.22},{"mu":"1.70","t":15.78,"E":0.26},{"mu":"1.70","t":15.94,"E":0.19},{"mu":"1.70","t":16.14,"E":0.11},{"mu":"1.70","t":16.3,"E":0.25},{"mu":"1.70","t":16.5,"E":0.49},{"mu":"1.70","t":16.68,"E":0.56},{"mu":"1.70","t":16.9,"E":0.51},{"mu":"1.70","t":17.1,"E":0.74},{"mu":"1.70","t":17.26,"E":0.95},{"mu":"1.70","t":17.46,"E":0.99},{"mu":"1.70","t":17.62,"E":0.92},{"mu":"1.70","t":17.76,"E":0.9},{"mu":"1.70","t":17.94,"E":1.0},{"mu":"1.70","t":18.12,"E":1.05},{"mu":"1.70","t":18.3,"E":0.9},{"mu":"1.70","t":18.46,"E":0.73},{"mu":"1.70","t":18.62,"E":0.67},{"mu":"1.70","t":18.88,"E":0.73},{"mu":"1.70","t":19.02,"E":0.63},{"mu":"1.70","t":19.18,"E":0.4},{"mu":"1.70","t":19.3,"E":0.26},{"mu":"1.70","t":19.42,"E":0.24},{"mu":"1.70","t":19.58,"E":0.3},{"mu":"1.70","t":19.74,"E":0.35},{"mu":"1.70","t":19.86,"E":0.3},{"mu":"1.70","t":19.98,"E":0.22},

      {"mu":"1.80","t":0,"E":2.93},{"mu":"1.80","t":2,"E":2.93},{"mu":"1.80","t":2.05,"E":2.9},{"mu":"1.80","t":2.1,"E":2.8},{"mu":"1.80","t":2.2,"E":2.45},{"mu":"1.80","t":2.3,"E":1.95},{"mu":"1.80","t":2.4,"E":1.42},{"mu":"1.80","t":2.5,"E":0.85},{"mu":"1.80","t":2.6,"E":0.4},{"mu":"1.80","t":2.7,"E":0.27},{"mu":"1.80","t":2.85,"E":0.23},{"mu":"1.80","t":3.09,"E":0.18},{"mu":"1.80","t":3.29,"E":0.18},{"mu":"1.80","t":3.49,"E":0.3},{"mu":"1.80","t":3.65,"E":0.54},{"mu":"1.80","t":3.81,"E":0.66},{"mu":"1.80","t":3.97,"E":0.7},{"mu":"1.80","t":4.09,"E":0.82},{"mu":"1.80","t":4.26,"E":1.26},{"mu":"1.80","t":4.42,"E":1.85},{"mu":"1.80","t":4.54,"E":2.29},{"mu":"1.80","t":4.66,"E":2.62},{"mu":"1.80","t":4.82,"E":2.67},{"mu":"1.80","t":5.02,"E":2.7},{"mu":"1.80","t":5.25,"E":2.74},{"mu":"1.80","t":5.38,"E":2.69},{"mu":"1.80","t":5.5,"E":2.57},{"mu":"1.80","t":5.63,"E":2.39},{"mu":"1.80","t":5.75,"E":2.31},{"mu":"1.80","t":5.85,"E":2.31},{"mu":"1.80","t":5.95,"E":2.27},{"mu":"1.80","t":6.05,"E":2.18},{"mu":"1.80","t":6.19,"E":1.91},{"mu":"1.80","t":6.31,"E":1.4},{"mu":"1.80","t":6.43,"E":0.8},{"mu":"1.80","t":6.55,"E":0.54},{"mu":"1.80","t":6.67,"E":0.44},{"mu":"1.80","t":6.83,"E":0.42},{"mu":"1.80","t":6.99,"E":0.4},{"mu":"1.80","t":7.12,"E":0.26},{"mu":"1.80","t":7.23,"E":0.09},{"mu":"1.80","t":7.35,"E":0.07},{"mu":"1.80","t":7.52,"E":0.16},{"mu":"1.80","t":7.64,"E":0.32},{"mu":"1.80","t":7.8,"E":0.43},{"mu":"1.80","t":7.96,"E":0.44},{"mu":"1.80","t":8.08,"E":0.54},{"mu":"1.80","t":8.2,"E":0.84},{"mu":"1.80","t":8.32,"E":1.28},{"mu":"1.80","t":8.44,"E":1.7},{"mu":"1.80","t":8.57,"E":1.94},{"mu":"1.80","t":8.69,"E":1.99},{"mu":"1.80","t":8.89,"E":2.0},{"mu":"1.80","t":9.01,"E":2.06},{"mu":"1.80","t":9.17,"E":2.27},{"mu":"1.80","t":9.33,"E":2.39},{"mu":"1.80","t":9.45,"E":2.33},{"mu":"1.80","t":9.58,"E":2.2},{"mu":"1.80","t":9.74,"E":2.08},{"mu":"1.80","t":9.98,"E":2.09},{"mu":"1.80","t":10.1,"E":1.98},{"mu":"1.80","t":10.22,"E":1.65},{"mu":"1.80","t":10.34,"E":1.28},{"mu":"1.80","t":10.46,"E":0.89},{"mu":"1.80","t":10.59,"E":0.67},{"mu":"1.80","t":10.75,"E":0.65},{"mu":"1.80","t":10.91,"E":0.68},{"mu":"1.80","t":11.03,"E":0.56},{"mu":"1.80","t":11.15,"E":0.3},{"mu":"1.80","t":11.27,"E":0.1},{"mu":"1.80","t":11.39,"E":0.055},{"mu":"1.80","t":11.52,"E":0.16},{"mu":"1.80","t":11.64,"E":0.3},{"mu":"1.80","t":11.8,"E":0.41},{"mu":"1.80","t":12.0,"E":0.36},{"mu":"1.80","t":12.14,"E":0.53},{"mu":"1.80","t":12.26,"E":0.94},{"mu":"1.80","t":12.38,"E":1.35},{"mu":"1.80","t":12.5,"E":1.54},{"mu":"1.80","t":12.67,"E":1.62},{"mu":"1.80","t":12.87,"E":1.59},{"mu":"1.80","t":13.03,"E":1.78},{"mu":"1.80","t":13.19,"E":2.07},{"mu":"1.80","t":13.35,"E":2.19},{"mu":"1.80","t":13.47,"E":2.12},{"mu":"1.80","t":13.64,"E":1.95},{"mu":"1.80","t":13.8,"E":1.91},{"mu":"1.80","t":14.04,"E":1.99},{"mu":"1.80","t":14.16,"E":1.83},{"mu":"1.80","t":14.28,"E":1.5},{"mu":"1.80","t":14.4,"E":1.11},{"mu":"1.80","t":14.53,"E":0.89},{"mu":"1.80","t":14.69,"E":0.89},{"mu":"1.80","t":14.85,"E":0.94},{"mu":"1.80","t":14.97,"E":0.82},{"mu":"1.80","t":15.09,"E":0.53},{"mu":"1.80","t":15.21,"E":0.29},{"mu":"1.80","t":15.33,"E":0.17},{"mu":"1.80","t":15.45,"E":0.24},{"mu":"1.80","t":15.58,"E":0.39},{"mu":"1.80","t":15.74,"E":0.53},{"mu":"1.80","t":15.9,"E":0.46},{"mu":"1.80","t":16.02,"E":0.37},{"mu":"1.80","t":16.14,"E":0.44},{"mu":"1.80","t":16.26,"E":0.75},{"mu":"1.80","t":16.38,"E":1.12},{"mu":"1.80","t":16.5,"E":1.36},{"mu":"1.80","t":16.64,"E":1.41},{"mu":"1.80","t":16.78,"E":1.35},{"mu":"1.80","t":16.9,"E":1.33},{"mu":"1.80","t":17.02,"E":1.53},{"mu":"1.80","t":17.14,"E":1.82},{"mu":"1.80","t":17.26,"E":2.03},{"mu":"1.80","t":17.36,"E":2.06},{"mu":"1.80","t":17.5,"E":1.9},{"mu":"1.80","t":17.66,"E":1.8},{"mu":"1.80","t":17.78,"E":1.82},{"mu":"1.80","t":17.9,"E":1.95},{"mu":"1.80","t":18.04,"E":1.99},{"mu":"1.80","t":18.16,"E":1.87},{"mu":"1.80","t":18.26,"E":1.58},{"mu":"1.80","t":18.38,"E":1.21},{"mu":"1.80","t":18.5,"E":1.06},{"mu":"1.80","t":18.62,"E":1.08},{"mu":"1.80","t":18.74,"E":1.16},{"mu":"1.80","t":18.84,"E":1.2},{"mu":"1.80","t":18.94,"E":1.14},{"mu":"1.80","t":19.06,"E":0.82},{"mu":"1.80","t":19.18,"E":0.53},{"mu":"1.80","t":19.3,"E":0.37},{"mu":"1.80","t":19.42,"E":0.42},{"mu":"1.80","t":19.54,"E":0.61},{"mu":"1.80","t":19.7,"E":0.74},{"mu":"1.80","t":19.82,"E":0.69},{"mu":"1.80","t":19.98,"E":0.48},

      {"mu":"1.90","t":0,"E":2.93},{"mu":"1.90","t":2,"E":2.93},{"mu":"1.90","t":2.05,"E":2.9},{"mu":"1.90","t":2.1,"E":2.8},{"mu":"1.90","t":2.2,"E":2.45},{"mu":"1.90","t":2.3,"E":1.9},{"mu":"1.90","t":2.4,"E":1.35},{"mu":"1.90","t":2.5,"E":0.75},{"mu":"1.90","t":2.6,"E":0.33},{"mu":"1.90","t":2.7,"E":0.2},{"mu":"1.90","t":2.85,"E":0.15},{"mu":"1.90","t":3.13,"E":0.12},{"mu":"1.90","t":3.29,"E":0.18},{"mu":"1.90","t":3.45,"E":0.38},{"mu":"1.90","t":3.61,"E":0.68},{"mu":"1.90","t":3.73,"E":0.92},{"mu":"1.90","t":3.93,"E":0.94},{"mu":"1.90","t":4.05,"E":1.02},{"mu":"1.90","t":4.22,"E":1.28},{"mu":"1.90","t":4.34,"E":1.81},{"mu":"1.90","t":4.46,"E":2.45},{"mu":"1.90","t":4.58,"E":2.93},{"mu":"1.90","t":4.66,"E":3.18},{"mu":"1.90","t":4.8,"E":3.22},{"mu":"1.90","t":4.95,"E":3.24},{"mu":"1.90","t":5.04,"E":3.26},{"mu":"1.90","t":5.15,"E":3.22},{"mu":"1.90","t":5.3,"E":3.1},{"mu":"1.90","t":5.42,"E":2.95},{"mu":"1.90","t":5.55,"E":2.7},{"mu":"1.90","t":5.7,"E":2.55},{"mu":"1.90","t":5.85,"E":2.53},{"mu":"1.90","t":5.95,"E":2.52},{"mu":"1.90","t":6.05,"E":2.45},{"mu":"1.90","t":6.15,"E":2.25},{"mu":"1.90","t":6.23,"E":1.75},{"mu":"1.90","t":6.35,"E":1.26},{"mu":"1.90","t":6.47,"E":0.7},{"mu":"1.90","t":6.59,"E":0.4},{"mu":"1.90","t":6.71,"E":0.32},{"mu":"1.90","t":6.83,"E":0.35},{"mu":"1.90","t":6.99,"E":0.34},{"mu":"1.90","t":7.12,"E":0.2},{"mu":"1.90","t":7.24,"E":0.06},{"mu":"1.90","t":7.31,"E":0.08},{"mu":"1.90","t":7.43,"E":0.23},{"mu":"1.90","t":7.56,"E":0.51},{"mu":"1.90","t":7.68,"E":0.76},{"mu":"1.90","t":7.8,"E":0.84},{"mu":"1.90","t":7.96,"E":0.85},{"mu":"1.90","t":8.08,"E":1.0},{"mu":"1.90","t":8.2,"E":1.39},{"mu":"1.90","t":8.32,"E":2.05},{"mu":"1.90","t":8.44,"E":2.6},{"mu":"1.90","t":8.57,"E":2.88},{"mu":"1.90","t":8.73,"E":2.95},{"mu":"1.90","t":8.89,"E":2.92},{"mu":"1.90","t":9.01,"E":3.01},{"mu":"1.90","t":9.17,"E":3.21},{"mu":"1.90","t":9.33,"E":3.28},{"mu":"1.90","t":9.45,"E":3.14},{"mu":"1.90","t":9.58,"E":2.82},{"mu":"1.90","t":9.74,"E":2.61},{"mu":"1.90","t":9.98,"E":2.64},{"mu":"1.90","t":10.1,"E":2.44},{"mu":"1.90","t":10.18,"E":2.05},{"mu":"1.90","t":10.26,"E":1.61},{"mu":"1.90","t":10.34,"E":1.17},{"mu":"1.90","t":10.42,"E":0.84},{"mu":"1.90","t":10.55,"E":0.67},{"mu":"1.90","t":10.71,"E":0.64},{"mu":"1.90","t":10.91,"E":0.68},{"mu":"1.90","t":11.03,"E":0.56},{"mu":"1.90","t":11.15,"E":0.3},{"mu":"1.90","t":11.27,"E":0.12},{"mu":"1.90","t":11.35,"E":0.08},{"mu":"1.90","t":11.43,"E":0.21},{"mu":"1.90","t":11.56,"E":0.62},{"mu":"1.90","t":11.68,"E":0.91},{"mu":"1.90","t":11.8,"E":0.95},{"mu":"1.90","t":11.96,"E":0.88},{"mu":"1.90","t":12.1,"E":1.04},{"mu":"1.90","t":12.22,"E":1.66},{"mu":"1.90","t":12.34,"E":2.39},{"mu":"1.90","t":12.46,"E":2.75},{"mu":"1.90","t":12.59,"E":2.91},{"mu":"1.90","t":12.75,"E":2.89},{"mu":"1.90","t":12.87,"E":2.86},{"mu":"1.90","t":12.99,"E":3.04},{"mu":"1.90","t":13.11,"E":3.28},{"mu":"1.90","t":13.23,"E":3.52},{"mu":"1.90","t":13.31,"E":3.55},{"mu":"1.90","t":13.43,"E":3.4},{"mu":"1.90","t":13.56,"E":2.99},{"mu":"1.90","t":13.68,"E":2.82},{"mu":"1.90","t":13.84,"E":2.86},{"mu":"1.90","t":14.0,"E":2.93},{"mu":"1.90","t":14.12,"E":2.7},{"mu":"1.90","t":14.24,"E":2.15},{"mu":"1.90","t":14.36,"E":1.42},{"mu":"1.90","t":14.44,"E":1.11},{"mu":"1.90","t":14.55,"E":0.99},{"mu":"1.90","t":14.69,"E":1.06},{"mu":"1.90","t":14.85,"E":1.21},{"mu":"1.90","t":14.97,"E":1.09},{"mu":"1.90","t":15.09,"E":0.7},{"mu":"1.90","t":15.21,"E":0.39},{"mu":"1.90","t":15.33,"E":0.22},{"mu":"1.90","t":15.41,"E":0.34},{"mu":"1.90","t":15.53,"E":0.82},{"mu":"1.90","t":15.66,"E":1.21},{"mu":"1.90","t":15.74,"E":1.27},{"mu":"1.90","t":15.86,"E":1.21},{"mu":"1.90","t":15.98,"E":1.07},{"mu":"1.90","t":16.1,"E":1.16},{"mu":"1.90","t":16.22,"E":1.7},{"mu":"1.90","t":16.34,"E":2.47},{"mu":"1.90","t":16.46,"E":2.97},{"mu":"1.90","t":16.58,"E":3.13},{"mu":"1.90","t":16.7,"E":3.04},{"mu":"1.90","t":16.84,"E":2.93},{"mu":"1.90","t":16.96,"E":3.14},{"mu":"1.90","t":17.06,"E":3.54},{"mu":"1.90","t":17.18,"E":3.88},{"mu":"1.90","t":17.3,"E":4.0},{"mu":"1.90","t":17.42,"E":3.85},{"mu":"1.90","t":17.52,"E":3.46},{"mu":"1.90","t":17.62,"E":3.17},{"mu":"1.90","t":17.68,"E":3.13},{"mu":"1.90","t":17.78,"E":3.25},{"mu":"1.90","t":17.9,"E":3.43},{"mu":"1.90","t":18.0,"E":3.47},{"mu":"1.90","t":18.1,"E":3.3},{"mu":"1.90","t":18.2,"E":2.88},{"mu":"1.90","t":18.28,"E":2.35},{"mu":"1.90","t":18.36,"E":1.82},{"mu":"1.90","t":18.44,"E":1.56},{"mu":"1.90","t":18.52,"E":1.48},{"mu":"1.90","t":18.62,"E":1.58},{"mu":"1.90","t":18.74,"E":1.82},{"mu":"1.90","t":18.82,"E":1.9},{"mu":"1.90","t":18.92,"E":1.8},{"mu":"1.90","t":19.02,"E":1.43},{"mu":"1.90","t":19.1,"E":1.03},{"mu":"1.90","t":19.18,"E":0.74},{"mu":"1.90","t":19.26,"E":0.65},{"mu":"1.90","t":19.36,"E":0.77},{"mu":"1.90","t":19.46,"E":1.16},{"mu":"1.90","t":19.56,"E":1.64},{"mu":"1.90","t":19.68,"E":1.85},{"mu":"1.90","t":19.8,"E":1.74},{"mu":"1.90","t":19.88,"E":1.53},{"mu":"1.90","t":19.96,"E":1.4},

      {"mu":"2.00","t":0,"E":2.93},{"mu":"2.00","t":2,"E":2.93},{"mu":"2.00","t":2.05,"E":2.9},{"mu":"2.00","t":2.1,"E":2.8},{"mu":"2.00","t":2.2,"E":2.5},{"mu":"2.00","t":2.3,"E":2.05},{"mu":"2.00","t":2.4,"E":1.65},{"mu":"2.00","t":2.5,"E":1.3},{"mu":"2.00","t":2.6,"E":1.12},{"mu":"2.00","t":2.68,"E":1.06},{"mu":"2.00","t":2.8,"E":1.03},{"mu":"2.00","t":2.93,"E":1.02},{"mu":"2.00","t":3.09,"E":0.94},{"mu":"2.00","t":3.25,"E":0.74},{"mu":"2.00","t":3.37,"E":0.5},{"mu":"2.00","t":3.49,"E":0.28},{"mu":"2.00","t":3.65,"E":0.14},{"mu":"2.00","t":3.81,"E":0.1},{"mu":"2.00","t":4.01,"E":0.086},{"mu":"2.00","t":4.22,"E":0.07},{"mu":"2.00","t":4.42,"E":0.05},{"mu":"2.00","t":4.7,"E":0.07},{"mu":"2.00","t":4.94,"E":0.08},{"mu":"2.00","t":5.14,"E":0.11},{"mu":"2.00","t":5.34,"E":0.18},{"mu":"2.00","t":5.5,"E":0.26},{"mu":"2.00","t":5.67,"E":0.29},{"mu":"2.00","t":5.99,"E":0.29},{"mu":"2.00","t":6.19,"E":0.3},{"mu":"2.00","t":6.39,"E":0.31},{"mu":"2.00","t":6.59,"E":0.3},{"mu":"2.00","t":6.79,"E":0.3},{"mu":"2.00","t":7.03,"E":0.29},{"mu":"2.00","t":7.19,"E":0.26},{"mu":"2.00","t":7.39,"E":0.19},{"mu":"2.00","t":7.56,"E":0.16},{"mu":"2.00","t":7.72,"E":0.13},{"mu":"2.00","t":7.92,"E":0.1},{"mu":"2.00","t":8.12,"E":0.066},{"mu":"2.00","t":8.32,"E":0.044},{"mu":"2.00","t":8.73,"E":0.022},{"mu":"2.00","t":9.13,"E":0.01},{"mu":"2.00","t":9.54,"E":0.002},{"mu":"2.00","t":9.98,"E":0.007},{"mu":"2.00","t":10.34,"E":0.015},{"mu":"2.00","t":10.75,"E":0.024},{"mu":"2.00","t":11.15,"E":0.028},{"mu":"2.00","t":11.56,"E":0.028},{"mu":"2.00","t":11.96,"E":0.024},{"mu":"2.00","t":12.2,"E":0.015},{"mu":"2.00","t":12.6,"E":0.01},{"mu":"2.00","t":14,"E":0.008},{"mu":"2.00","t":16,"E":0.006},{"mu":"2.00","t":19.98,"E":0.005}
    ]
  },
  "layer": [
    {
      "mark": {"type": "line", "strokeWidth": 3.5, "clip": true, "interpolate": "monotone"},
      "encoding": {
        "x": {
          "field": "t",
          "type": "quantitative",
          "scale": {"domain": [0, 19.98], "nice": false, "zero": false},
          "axis": {
            "orient": "bottom",
            "values": [0, 2, 4, 6, 8, 10, 12, 14, 16, 18],
            "format": "d",
            "grid": false,
            "labelFont": "Liberation Sans",
            "labelFontSize": 48,
            "labelColor": "#262626",
            "labelFlush": false,
            "labelOverlap": false,
            "labelPadding": 55,
            "tickSize": -34,
            "tickWidth": 3,
            "tickColor": "#262626",
            "domainColor": "#262626",
            "domainWidth": 3.3,
            "title": "t",
            "titleFont": "Liberation Serif",
            "titleFontStyle": "italic",
            "titleFontWeight": "normal",
            "titleFontSize": 80,
            "titleColor": "#262626",
            "titlePadding": 6
          }
        },
        "y": {
          "field": "E",
          "type": "quantitative",
          "scale": {"domain": [0, 4], "nice": false},
          "axis": {
            "orient": "left",
            "values": [0, 0.5, 1, 1.5, 2, 2.5, 3, 3.5, 4],
            "format": "~g",
            "grid": false,
            "labelFont": "Liberation Sans",
            "labelFontSize": 48,
            "labelColor": "#262626",
            "labelFlush": false,
            "labelOverlap": false,
            "labelPadding": 50,
            "tickSize": -34,
            "tickWidth": 3,
            "tickColor": "#262626",
            "domainColor": "#262626",
            "domainWidth": 3.3,
            "title": "E(t)",
            "titleFont": "Liberation Serif",
            "titleFontStyle": "italic",
            "titleFontWeight": "normal",
            "titleFontSize": 82,
            "titleColor": "#262626",
            "titlePadding": 21
          }
        },
        "color": {
          "field": "mu",
          "type": "nominal",
          "scale": {
            "domain": ["1.10", "1.20", "1.30", "1.40", "1.50", "1.60", "1.70", "1.80", "1.90", "2.00"],
            "range": ["#ff0000", "#00ff00", "#0000ff", "#00ffff", "#ff00ff", "#ffff00", "#000000", "#ff0000", "#00ff00", "#0000ff"]
          },
          "legend": {
            "title": null,
            "orient": "none",
            "legendX": 1670,
            "legendY": 1,
            "symbolType": "stroke",
            "symbolSize": 3844,
            "symbolStrokeWidth": 3.5,
            "labelFont": "Liberation Serif",
            "labelFontSize": 73,
            "labelColor": "black",
            "labelLimit": 600,
            "labelOffset": 6,
            "rowPadding": 17,
            "padding": 11,
            "strokeColor": "#262626",
            "fillColor": "white",
            "labelExpr": "'μ=\u2002\u200a' + datum.label"
          }
        },
        "strokeDash": {
          "field": "mu",
          "type": "nominal",
          "scale": {
            "domain": ["1.10", "1.20", "1.30", "1.40", "1.50", "1.60", "1.70", "1.80", "1.90", "2.00"],
            "range": [[1, 0], [1, 0], [1, 0], [1, 0], [1, 0], [1, 0], [1, 0], [16, 10], [16, 10], [16, 10]]
          },
          "legend": {
            "title": null,
            "orient": "none",
            "legendX": 1670,
            "legendY": 1,
            "symbolType": "stroke",
            "symbolSize": 3844,
            "symbolStrokeWidth": 3.5,
            "labelFont": "Liberation Serif",
            "labelFontSize": 73,
            "labelColor": "black",
            "labelLimit": 600,
            "labelOffset": 6,
            "rowPadding": 17,
            "padding": 11,
            "strokeColor": "#262626",
            "fillColor": "white",
            "labelExpr": "'μ=\u2002\u200a' + datum.label"
          }
        }
      }
    },
    {
      "mark": {"type": "point", "opacity": 0},
      "encoding": {
        "x": {
          "field": "t",
          "type": "quantitative",
          "axis": {
            "orient": "top",
            "values": [0, 2, 4, 6, 8, 10, 12, 14, 16, 18],
            "labels": false,
            "title": null,
            "grid": false,
            "tickSize": -34,
            "tickWidth": 3,
            "tickColor": "#262626",
            "domainColor": "#262626",
            "domainWidth": 3.3
          }
        },
        "y": {
          "field": "E",
          "type": "quantitative",
          "axis": {
            "orient": "right",
            "values": [0, 0.5, 1, 1.5, 2, 2.5, 3, 3.5, 4],
            "labels": false,
            "title": null,
            "grid": false,
            "tickSize": -34,
            "tickWidth": 3,
            "tickColor": "#262626",
            "domainColor": "#262626",
            "domainWidth": 3.3
          }
        }
      }
    }
  ],
  "resolve": {"axis": {"x": "independent", "y": "independent"}},
  "config": {"view": {"stroke": null}}
}
